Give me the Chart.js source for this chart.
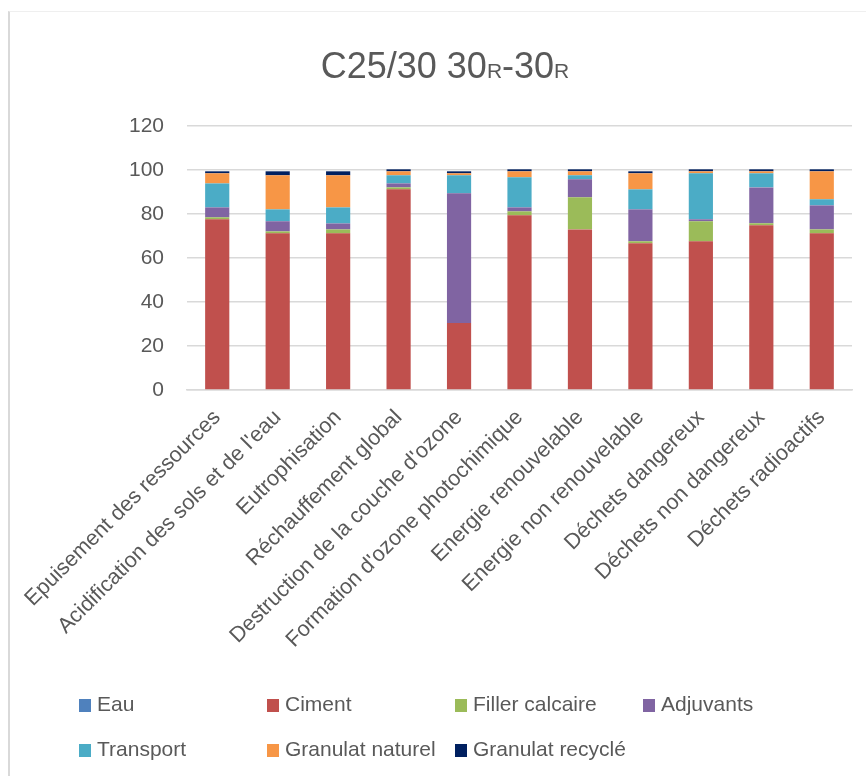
<!DOCTYPE html>
<html>
<head>
<meta charset="utf-8">
<script src="https://cdn.jsdelivr.net/npm/chart.js@4"></script>
<style>
  html, body { margin: 0; padding: 0; background: #fff; }
  body { width: 866px; height: 776px; position: relative; overflow: hidden;
         font-family: "Liberation Sans", Arial, sans-serif; color: #595959; }
  #frame { position: absolute; left: 8px; top: 11px; width: 858px; height: 765px;
           border-left: 2px solid #d9d9d9; border-top: 1px solid #efefef; box-sizing: border-box; }
  #chart { position: absolute; left: 0; top: 0; }
  #title { position: absolute; left: 445px; top: 44px; transform: translateX(-50%);
           font-size: 36px; white-space: nowrap; line-height: 44px; }
  #title small { font-size: 21px; }
  .leg { position: absolute; font-size: 21px; line-height: 24px; white-space: nowrap; }
  .leg span.box { display: inline-block; width: 12px; height: 13px; margin-right: 6px; vertical-align: -1px; }
</style>
</head>
<body>
<div id="frame"></div>
<canvas id="chart" width="866" height="776"></canvas>
<div id="title">C25/30 30<small>R</small>-30<small>R</small></div>
<div id="legend"></div>
<script>
// ============================================================================
// Daten (in %)
// ============================================================================
const categories = [
    "Epuisement des ressources",
    "Acidification des sols et de l'eau",
    "Eutrophisation",
    "Réchauffement global",
    "Destruction de la couche d'ozone",
    "Formation d'ozone photochimique",
    "Energie renouvelable",
    "Energie non renouvelable",
    "Déchets dangereux",
    "Déchets non dangereux",
    "Déchets radioactifs"
];

const eau        = [0, 0, 0, 0, 0, 0, 0, 0, 0, 0, 0];
const ciment     = [77.6, 71.2, 71.2, 91.2, 30.5, 79.4, 73.0, 66.7, 67.6, 74.9, 71.2];
const filler     = [0.9, 0.9, 1.8, 0.9, 0, 1.8, 14.6, 0.9, 9.1, 0.9, 1.8];
const adjuvants  = [4.5, 4.6, 2.7, 1.8, 58.9, 1.8, 8.2, 14.5, 0.9, 16.3, 10.9];
const transport  = [10.9, 5.4, 7.3, 3.7, 8.2, 13.7, 1.8, 9.1, 20.9, 6.4, 2.8];
const naturel    = [4.6, 15.5, 14.6, 1.8, 0.9, 2.7, 1.8, 7.3, 0.9, 0.9, 12.7];
const recycle    = [0.9, 1.8, 1.8, 0.9, 0.9, 0.9, 0.9, 0.9, 0.9, 0.9, 0.9];

const yTicks = [0, 20, 40, 60, 80, 100, 120];

// ============================================================================
// Chart
// ============================================================================
const FONT = "'Liberation Sans', Arial, sans-serif";
const TXT = "#595959";
const GRID = "#d9d9d9";

function ds(label, data, color) {
    return {
        label: label,
        data: data,
        backgroundColor: color,
        borderWidth: 0,
        barPercentage: 0.8,
        categoryPercentage: 0.5
    };
}

const chart = new Chart(document.getElementById("chart"), {
    type: "bar",
    data: {
        labels: categories,
        datasets: [
            ds("Eau", eau, "#4f81bd"),
            ds("Ciment", ciment, "#c0504d"),
            ds("Filler calcaire", filler, "#9bbb59"),
            ds("Adjuvants", adjuvants, "#8064a2"),
            ds("Transport", transport, "#4bacc6"),
            ds("Granulat naturel", naturel, "#f79646"),
            ds("Granulat recyclé", recycle, "#002060")
        ]
    },
    options: {
        responsive: false,
        animation: false,
        layout: { padding: { top: 126, right: 14, bottom: 0, left: 0 } },
        plugins: {
            legend: { display: false },
            title: { display: false },
            tooltip: { enabled: false }
        },
        scales: {
            x: {
                stacked: true,
                grid: { display: false, drawTicks: false },
                border: { display: true, color: GRID, width: 1.5 },
                ticks: {
                    autoSkip: false,
                    maxRotation: 45,
                    minRotation: 45,
                    padding: 15,
                    color: TXT,
                    font: { family: FONT, size: 21.6 }
                },
                afterFit: (scale) => { scale.height = 386; }
            },
            y: {
                stacked: true,
                min: 0,
                max: 120,
                afterBuildTicks: (scale) => { scale.ticks = yTicks.map(v => ({ value: v })); },
                grid: { color: GRID, lineWidth: 1.5, drawTicks: false },
                border: { display: false },
                ticks: {
                    padding: 23,
                    color: TXT,
                    font: { family: FONT, size: 21 }
                },
                afterFit: (scale) => { scale.width = 187; }
            }
        }
    }
});

// ============================================================================
// Legende (HTML, Raster wie im Original)
// ============================================================================
const legend = document.getElementById("legend");
const legX = [79, 267, 455, 643];
const legY = [692, 737];
chart.data.datasets.forEach((d, i) => {
    const item = document.createElement("div");
    item.className = "leg";
    item.style.left = legX[i % 4] + "px";
    item.style.top = legY[Math.floor(i / 4)] + "px";
    item.innerHTML = `<span class="box" style="background:${d.backgroundColor}"></span>${d.label}`;
    legend.appendChild(item);
});
</script>
</body>
</html>
